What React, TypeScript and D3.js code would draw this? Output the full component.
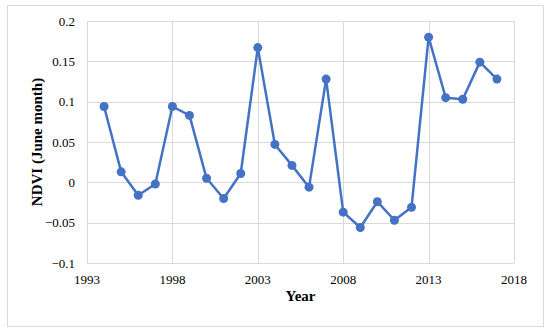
import React, { useEffect, useRef } from 'react';
import * as d3 from 'd3';

const years = [1994, 1995, 1996, 1997, 1998, 1999, 2000, 2001, 2002, 2003, 2004, 2005, 2006, 2007, 2008, 2009, 2010, 2011, 2012, 2013, 2014, 2015, 2016, 2017];
const ndvi = [0.094, 0.013, -0.016, -0.002, 0.094, 0.083, 0.005, -0.020, 0.011, 0.167, 0.047, 0.021, -0.006, 0.128, -0.037, -0.056, -0.024, -0.047, -0.031, 0.180, 0.105, 0.103, 0.149, 0.128];
const xTicks = [1993, 1998, 2003, 2008, 2013, 2018];
const yTicks = [-0.1, -0.05, 0, 0.05, 0.1, 0.15, 0.2];

const W = 550;
const H = 332;

const App: React.FC = () => {
  const svgRef = useRef<SVGSVGElement>(null);

  useEffect(() => {
    if (!svgRef.current) return;
    const svg = d3.select(svgRef.current);
    svg.selectAll("*").remove();

    const margin = { top: 21, right: 36, bottom: 69, left: 87 };
    const innerWidth = W - margin.left - margin.right;
    const innerHeight = H - margin.top - margin.bottom;
    const font = "'Liberation Serif', 'Times New Roman', serif";

    // outer chart border
    svg.append("rect")
      .attr("x", 7.5).attr("y", 5.5)
      .attr("width", 536).attr("height", 321)
      .attr("fill", "#fff")
      .attr("stroke", "#d9d9d9")
      .attr("stroke-width", 1);

    const g = svg.append("g")
      .attr("transform", `translate(${margin.left},${margin.top})`);

    const xScale = d3.scaleLinear().domain([1993, 2018]).range([0, innerWidth]);
    const yScale = d3.scaleLinear().domain([-0.1, 0.2]).range([innerHeight, 0]);

    // grid
    g.append("g")
      .selectAll("line")
      .data(yTicks)
      .enter()
      .append("line")
      .attr("x1", 0).attr("x2", innerWidth)
      .attr("y1", d => Math.round(yScale(d)) + 0.5)
      .attr("y2", d => Math.round(yScale(d)) + 0.5)
      .attr("stroke", "#d9d9d9");

    g.append("g")
      .selectAll("line")
      .data(xTicks)
      .enter()
      .append("line")
      .attr("y1", 0).attr("y2", innerHeight)
      .attr("x1", d => Math.round(xScale(d)) + 0.5)
      .attr("x2", d => Math.round(xScale(d)) + 0.5)
      .attr("stroke", "#d9d9d9");

    // tick labels
    g.append("g")
      .selectAll("text")
      .data(yTicks)
      .enter()
      .append("text")
      .attr("x", -12)
      .attr("y", d => yScale(d))
      .attr("dy", "0.35em")
      .attr("text-anchor", "end")
      .attr("font-family", font)
      .attr("font-size", 13)
      .attr("fill", "#000")
      .text(d => d3.format("")(+d.toFixed(2)));

    g.append("g")
      .selectAll("text")
      .data(xTicks)
      .enter()
      .append("text")
      .attr("x", d => xScale(d))
      .attr("y", innerHeight + 21)
      .attr("text-anchor", "middle")
      .attr("font-family", font)
      .attr("font-size", 13)
      .attr("fill", "#000")
      .text(d => d);

    // axis titles
    svg.append("text")
      .attr("x", margin.left + innerWidth / 2)
      .attr("y", 301)
      .attr("text-anchor", "middle")
      .attr("font-family", font)
      .attr("font-size", 15)
      .attr("font-weight", "bold")
      .text("Year");

    svg.append("text")
      .attr("transform", `translate(42,${margin.top + innerHeight / 2}) rotate(-90)`)
      .attr("text-anchor", "middle")
      .attr("font-family", font)
      .attr("font-size", 15)
      .attr("font-weight", "bold")
      .text("NDVI (June month)");

    // series
    const pts = years.map((y, i) => ({ x: y, v: ndvi[i] }));
    const line = d3.line<{ x: number; v: number }>()
      .x(d => xScale(d.x))
      .y(d => yScale(d.v));

    g.append("path")
      .datum(pts)
      .attr("d", line)
      .attr("fill", "none")
      .attr("stroke", "#4472c4")
      .attr("stroke-width", 2.5)
      .attr("stroke-linejoin", "round");

    g.selectAll("circle.pt")
      .data(pts)
      .enter()
      .append("circle")
      .attr("class", "pt")
      .attr("cx", d => xScale(d.x))
      .attr("cy", d => yScale(d.v))
      .attr("r", 4.5)
      .attr("fill", "#4472c4");
  }, []);

  return (
    <svg
      ref={svgRef}
      width={W}
      height={H}
      style={{ position: "absolute", left: 0, top: 0, background: "#fff" }}
    />
  );
};

export default App;
